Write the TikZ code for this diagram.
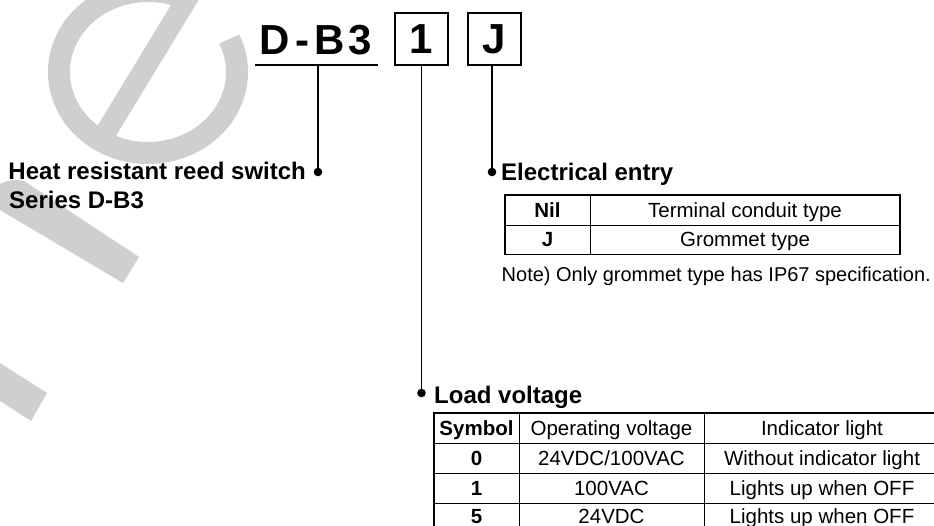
\documentclass[tikz,border=0pt]{standalone}
\usepackage{fontspec}
\setmainfont{Liberation Sans}
\definecolor{wm}{RGB}{207,207,207}
\begin{document}
\begin{tikzpicture}[x=1pt,y=-1pt,
  hd/.style={font=\fontsize{24}{29}\selectfont\bfseries, inner sep=0pt, anchor=base west},
  big/.style={font=\fontsize{42}{50}\selectfont\bfseries, inner sep=0pt},
  digitbox/.style={big, draw, line width=2pt, minimum width=53pt, minimum height=52pt},
  conn/.style={line width=1.9pt},
  dot/.style={fill=black},
  cb/.style={font=\fontsize{20.5}{24}\selectfont\bfseries, inner sep=0pt, anchor=base},
  cr/.style={font=\fontsize{20.5}{24}\selectfont, inner sep=0pt, anchor=base},
  outer/.style={line width=1.8pt},
  inner/.style={line width=1pt}]
\clip (0,0) rectangle (934,526);
\fill[white] (0,0) rectangle (934,526);
% watermark
\draw[wm, line width=22pt] ([shift={(-58:89 and 81)}]148,72) arc[start angle=-58, end angle=-384, x radius=89, y radius=81];
\draw[wm, line width=21pt] (100,142) -- (196,-16);
\fill[wm] (0,184) .. controls (8,180) and (16,179) .. (24,181) -- (139,257) -- (123,283) -- (0,210) -- cycle;
\fill[wm] (0,363) -- (47,393) -- (31,421) -- (0,401) -- cycle;
% model code
\node[big, anchor=base west] (db3) at (259,55) {D\kern6pt-\kern5.5pt B\kern3pt 3};
\draw[line width=2.6pt] (255,65) -- (378,65);
\node[digitbox] (b1) at (421.5,39) {1};
\node[digitbox] (bJ) at (494.5,39) {J};
% connectors
\coordinate (ul) at (318,65);
\coordinate (dh) at (318,172);
\coordinate (dj) at (492,172);
\coordinate (dl) at (421.5,393);
\draw[conn] (ul) -- (dh);
\draw[conn] (dj |- bJ.south) -- (dj);
\draw[conn] (b1.south) -- (dl);
\fill[dot] (dh) circle (4.3pt);
\fill[dot] (dj) circle (4.3pt);
\fill[dot] (dl) circle (4.3pt);
% labels
\node[hd] (heat) at (8.3,180) {Heat resistant reed switch};
\node[hd] (series) at (9,209) {Series D-B3};
\node[hd] (ee) at (501,181) {Electrical entry};
\node[hd] (lv) at (434,403) {Load voltage};
% electrical entry table
\draw[inner] (505,226) -- (900,226);
\draw[inner] (590,195) -- (590,254.5);
\draw[outer] (505,195) rectangle (900,254.5);
\node[cb] (nil) at (547.5,218) {Nil};
\node[cr] (tct) at (745,218) {Terminal conduit type};
\node[cb] (jj) at (547.5,247) {J};
\node[cr] (gt) at (745,247) {Grommet type};
\node[font=\fontsize{20}{24}\selectfont, inner sep=0pt, anchor=base west] (note) at (501.5,282) {Note) Only grommet type has IP67 specification.};
% load voltage table
\draw[inner] (434,443.5) -- (945,443.5);
\draw[inner] (434,473) -- (945,473);
\draw[inner] (434,503) -- (945,503);
\draw[inner] (519,413) -- (519,540);
\draw[inner] (704,413) -- (704,540);
\draw[outer] (434,540) -- (434,413) -- (945,413);
\node[cb] (sym) at (476.5,435.5) {Symbol};
\node[cr] (opv) at (611.5,435.5) {Operating voltage};
\node[cr] (ind) at (822,435.5) {Indicator light};
\node[cb] (s0) at (476.5,465.5) {0};
\node[cr] (v0) at (611.5,465.5) {24VDC/100VAC};
\node[cr] (i0) at (822,465.5) {Without indicator light};
\node[cb] (s1) at (476.5,495.5) {1};
\node[cr] (v1) at (611.5,495.5) {100VAC};
\node[cr] (i1) at (822,495.5) {Lights up when OFF};
\node[cb] (s5) at (476.5,523.5) {5};
\node[cr] (v5) at (611.5,523.5) {24VDC};
\node[cr] (i5) at (822,523.5) {Lights up when OFF};
\end{tikzpicture}
\end{document}
